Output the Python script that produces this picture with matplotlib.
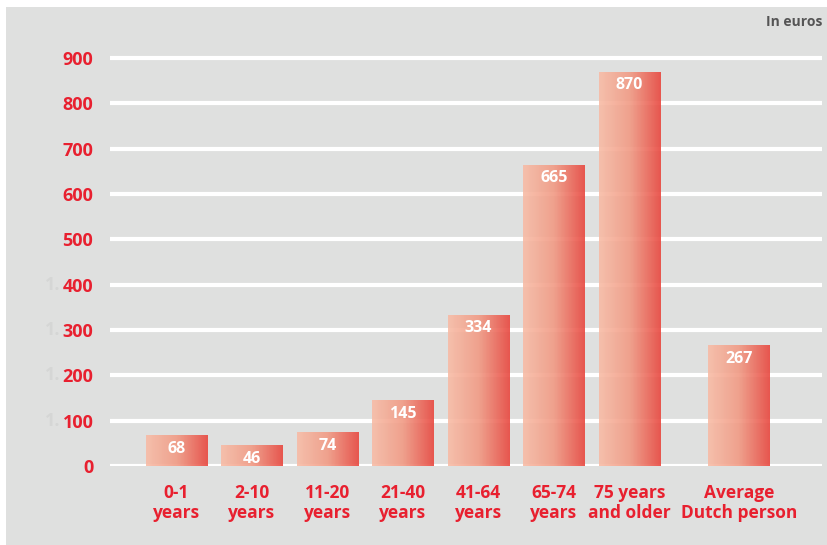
import numpy as np
import matplotlib.pyplot as plt
from matplotlib.patches import Rectangle
from matplotlib.colors import LinearSegmentedColormap

plt.rcParams['font.family'] = ['Open Sans', 'DejaVu Sans']

# data
categories = ['0-1\nyears', '2-10\nyears', '11-20\nyears', '21-40\nyears',
              '41-64\nyears', '65-74\nyears', '75 years\nand older', 'Average\nDutch person']
values = [68, 46, 74, 145, 334, 665, 870, 267]
positions = [0, 1, 2, 3, 4, 5, 6, 7.45]
yticks = [0, 100, 200, 300, 400, 500, 600, 700, 800, 900]

red = '#e8202f'
bg = '#dfe0df'

fig = plt.figure(figsize=(8.27, 5.45), dpi=100)
fig.patch.set_facecolor('white')
fig.patches.append(Rectangle((6/827, 0), 821/827, 538/545, transform=fig.transFigure,
                             facecolor=bg, edgecolor='none', zorder=-10))

# axes: x pixels 110..822, y=0 at pixel 466, y=900 at pixel 58
px_per_unit = 408 / 900
top_val = (466 - 7) / px_per_unit
ax = fig.add_axes([110/827, (545-466)/545, 712/827, (466-7)/545])
ax.set_facecolor('none')
for s in ax.spines.values():
    s.set_visible(False)

for y in yticks:
    ax.axhline(y, color='white', lw=3, zorder=1)

cmap = LinearSegmentedColormap.from_list('bar', ['#f8bca6', '#f19a84', '#e8463e'])
grad = np.linspace(0, 1, 256).reshape(1, -1)
w = 0.81
for x, v in zip(positions, values):
    rect = Rectangle((x - w/2, 0), w, v, facecolor='none', edgecolor='none', zorder=2)
    ax.add_patch(rect)
    im = ax.imshow(grad, cmap=cmap, aspect='auto', extent=(x - w/2, x + w/2, 0, v),
                   zorder=2, alpha=0.9)
    im.set_clip_path(rect)
    ax.annotate(str(v), (x, v), xytext=(0, -10), textcoords='offset points',
                ha='center', va='center', color='white', fontsize=11.5, fontweight='bold', zorder=3)
ax.set_aspect('auto')
ax.set_xlim(-0.88, 8.55)
ax.set_ylim(0, top_val)

ax.set_yticks(yticks)
ax.set_yticklabels([str(t) for t in yticks], color=red, fontsize=13, fontweight='bold')
ax.tick_params(axis='y', length=0, pad=12)
ax.set_xticks(positions)
ax.set_xticklabels(categories, color=red, fontsize=12.5, fontweight='bold', linespacing=1.12)
ax.tick_params(axis='x', length=0, pad=13)

# faint ghost digits left of some tick labels
for y in [100, 200, 300, 400]:
    ypix = 466 - y * px_per_unit
    fig.text(60/827, 1 - ypix/545, '1.', color='#d5d6d5', fontsize=13, fontweight='bold',
             ha='right', va='center')

fig.text(822/827, 1 - 22/545, 'In euros', color='#555555', fontsize=10,
         fontweight='bold', ha='right', va='center')

plt.savefig('out.png', dpi=100)
